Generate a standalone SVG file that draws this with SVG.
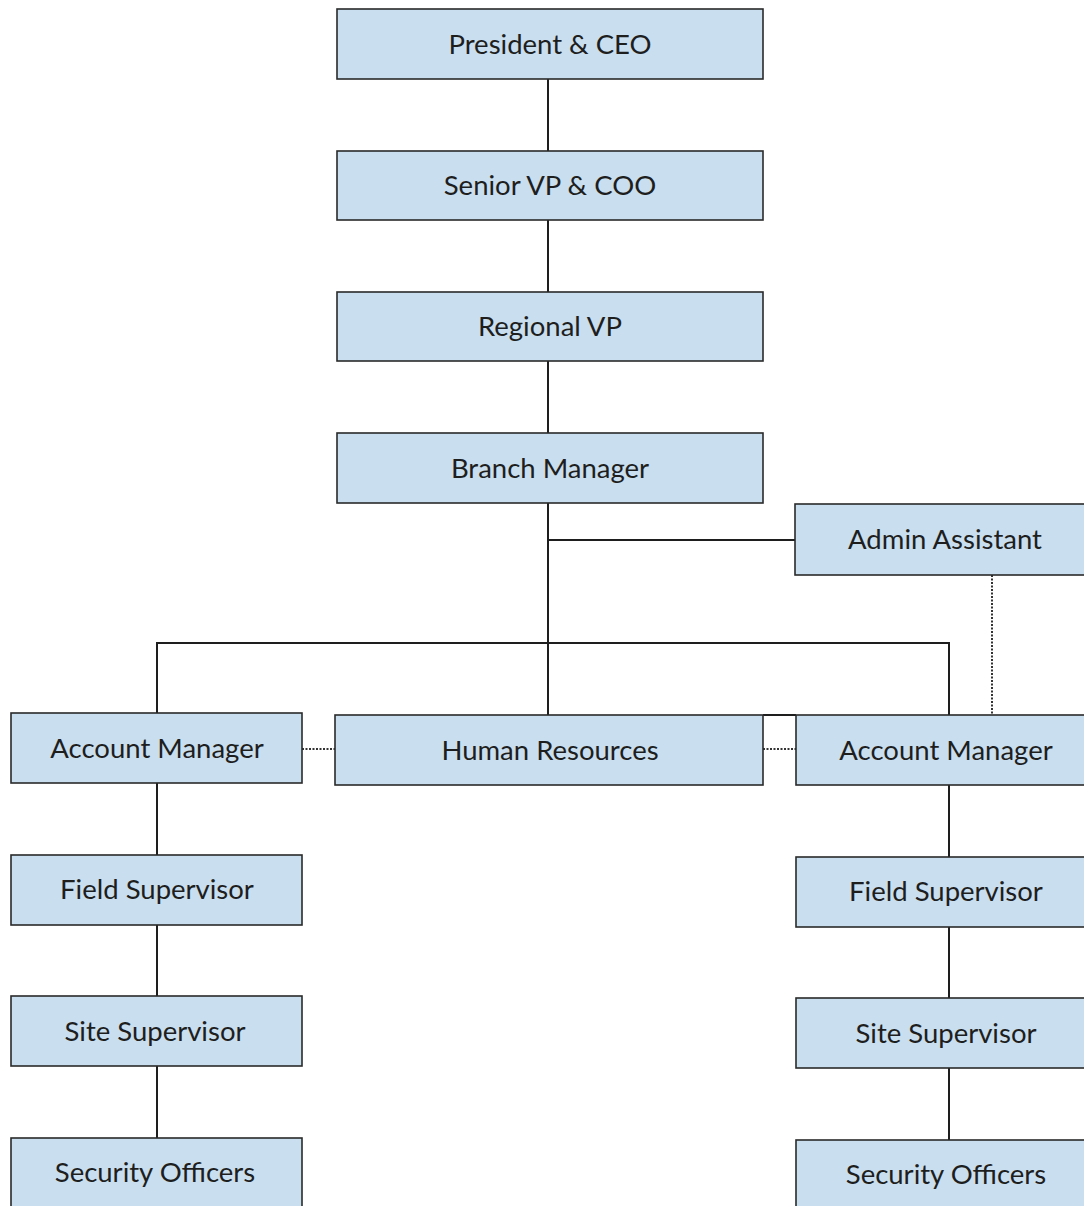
<svg xmlns="http://www.w3.org/2000/svg" width="1084" height="1206" viewBox="0 0 1084 1206">
<style>
.box{fill:#c9deee;stroke:#2a2a2a;stroke-width:1.6}
.t{font-family:Lato,"Open Sans","Liberation Sans",sans-serif;font-size:27.5px;fill:#1e1e1e;text-anchor:middle;dominant-baseline:central}
.c{stroke:#1e1e1e;stroke-width:2;fill:none}
.d{stroke:#333;stroke-width:2;stroke-dasharray:2 1.5;fill:none}
</style>
<rect width="1084" height="1206" fill="#ffffff"/>
<g id="connectors">
<line class="c" x1="548" y1="79" x2="548" y2="151"/>
<line class="c" x1="548" y1="220" x2="548" y2="292"/>
<line class="c" x1="548" y1="361" x2="548" y2="433"/>
<line class="c" x1="548" y1="503" x2="548" y2="715"/>
<line class="c" x1="548" y1="540" x2="795" y2="540"/>
<polyline class="c" points="157,713 157,643 949,643 949,715"/>
<line class="c" x1="763" y1="715" x2="796" y2="715"/>
<line class="d" x1="302" y1="749" x2="335" y2="749"/>
<line class="d" x1="763" y1="749" x2="796" y2="749"/>
<line class="d" x1="992" y1="575" x2="992" y2="715"/>
<line class="c" x1="157" y1="783" x2="157" y2="855"/>
<line class="c" x1="157" y1="925" x2="157" y2="996"/>
<line class="c" x1="157" y1="1066" x2="157" y2="1138"/>
<line class="c" x1="949" y1="785" x2="949" y2="857"/>
<line class="c" x1="949" y1="927" x2="949" y2="998"/>
<line class="c" x1="949" y1="1068" x2="949" y2="1140"/>
</g>
<g id="president"><rect class="box" x="337" y="9" width="426" height="70"/><text class="t" x="550" y="43">President &amp; CEO</text></g>
<g id="svp"><rect class="box" x="337" y="151" width="426" height="69"/><text class="t" x="550" y="184">Senior VP &amp; COO</text></g>
<g id="rvp"><rect class="box" x="337" y="292" width="426" height="69"/><text class="t" x="550" y="325">Regional VP</text></g>
<g id="branch"><rect class="box" x="337" y="433" width="426" height="70"/><text class="t" x="550" y="467">Branch Manager</text></g>
<g id="admin"><rect class="box" x="795" y="504" width="300" height="71"/><text class="t" x="945" y="538">Admin Assistant</text></g>
<g id="am-left"><rect class="box" x="11" y="713" width="291" height="70"/><text class="t" x="157" y="747">Account Manager</text></g>
<g id="hr"><rect class="box" x="335" y="715" width="428" height="70"/><text class="t" x="550" y="749">Human Resources</text></g>
<g id="am-right"><rect class="box" x="796" y="715" width="300" height="70"/><text class="t" x="946" y="749">Account Manager</text></g>
<g id="fs-left"><rect class="box" x="11" y="855" width="291" height="70"/><text class="t" x="157" y="888">Field Supervisor</text></g>
<g id="ss-left"><rect class="box" x="11" y="996" width="291" height="70"/><text class="t" x="155" y="1030">Site Supervisor</text></g>
<g id="so-left"><rect class="box" x="11" y="1138" width="291" height="80"/><text class="t" x="155" y="1171">Security Officers</text></g>
<g id="fs-right"><rect class="box" x="796" y="857" width="300" height="70"/><text class="t" x="946" y="890">Field Supervisor</text></g>
<g id="ss-right"><rect class="box" x="796" y="998" width="300" height="70"/><text class="t" x="946" y="1032">Site Supervisor</text></g>
<g id="so-right"><rect class="box" x="796" y="1140" width="300" height="80"/><text class="t" x="946" y="1173">Security Officers</text></g>
</svg>
